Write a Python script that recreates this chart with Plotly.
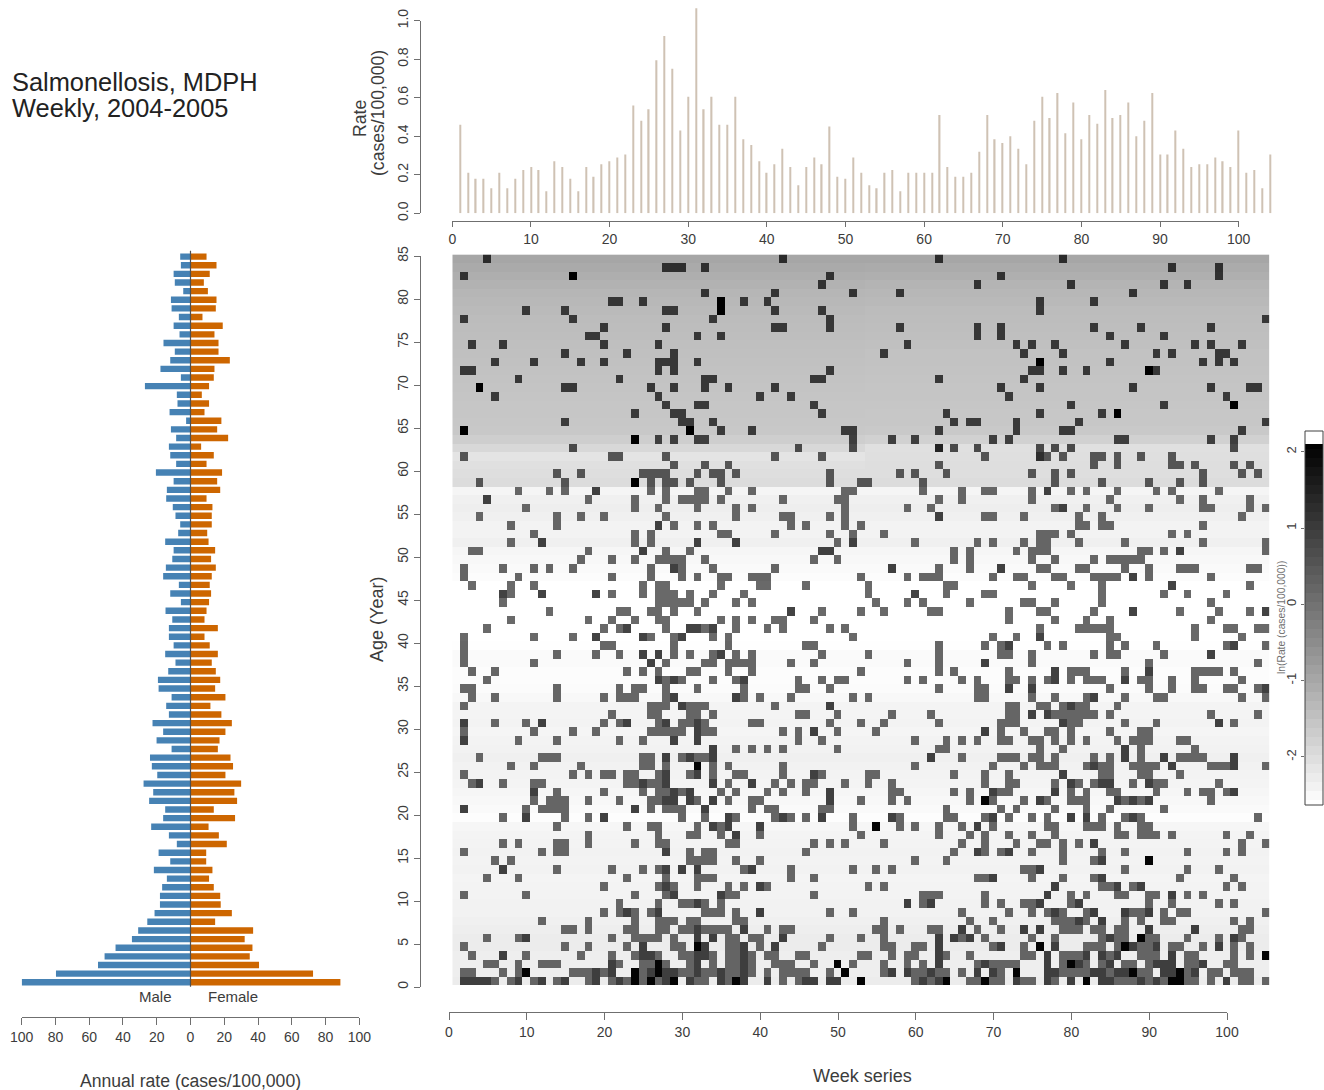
import numpy as np
import plotly.graph_objects as go

W, H = 1324, 1090

# ---------- data ----------
ages = list(range(85, 0, -1))
male_rate = [6.1,5.7,10,9.3,4.3,11.6,11.2,6.9,10,6.5,16,9.3,12,17.8,5.7,27,8.1,7.7,12.4,2.6,11.6,8.5,12.8,12,8.5,
             20.5,10,14,14.4,10.5,8.9,6.1,7.3,15,10,10.8,14.6,16.2,6.9,12,5.7,14.8,10.8,12.8,12.8,10,15,8.9,13.2,
             19.3,18.9,11.2,14.4,12.8,22.5,16.2,20.1,11.2,24,22.9,19.7,27.8,22.1,24.5,15,16.2,23.3,12.8,8.1,18.9,
             12,21.7,14,16.8,18.1,18.1,21.3,25.6,31,34.7,44.4,50.9,54.8,79.7,100]
female_rate = [9.5,15.4,11.4,7.9,10.3,15.4,15,7.1,19.1,14.2,16.6,16.6,23.3,14.2,13.8,11,6.7,11,8.3,18.3,15.8,22.3,
               6.3,13.8,9.5,18.7,15.8,17.6,9.5,13,12.6,12.6,9.9,10.7,14.6,12.2,15,12.6,11.4,12.2,11,9.5,8.3,16.2,
               8.3,11.4,16.2,12.6,15,17.6,14.6,20.7,11.8,18.3,24.5,20.7,17.2,16.2,23.7,25.2,20.7,30,26,27.6,13.8,
               26.4,10.7,16.8,21.5,9.3,9.3,13,11,13.8,17.6,17.9,24.5,14.6,37.1,32.1,36.7,35.1,40.6,72.6,88.8]

weekly_rate = [0.46,0.21,0.18,0.18,0.13,0.21,0.13,0.18,0.225,0.24,0.225,0.115,0.27,0.24,0.18,0.115,0.24,0.19,0.255,
               0.27,0.29,0.305,0.56,0.48,0.54,0.795,0.92,0.75,0.43,0.605,1.065,0.54,0.605,0.46,0.46,0.605,0.385,
               0.355,0.27,0.21,0.255,0.335,0.24,0.145,0.24,0.29,0.255,0.45,0.19,0.18,0.29,0.21,0.145,0.13,0.21,
               0.225,0.115,0.21,0.21,0.21,0.21,0.51,0.24,0.19,0.19,0.21,0.32,0.51,0.385,0.365,0.40,0.335,0.255,
               0.48,0.605,0.495,0.625,0.415,0.575,0.385,0.51,0.465,0.64,0.495,0.51,0.575,0.40,0.48,0.625,0.305,
               0.305,0.43,0.335,0.24,0.255,0.255,0.29,0.27,0.24,0.43,0.21,0.225,0.13,0.305]

# ln(rate) shown in the weeks without a case, per age 85..1
ln_empty_2004 = [-0.98,-1.05,-1.13,-1.20,-1.28,-1.31,-1.35,-1.39,-1.41,-1.42,-1.44,-1.46,-1.48,-1.50,-1.52,-1.54,-1.55,
                 -1.57,-1.57,-1.59,-1.61,-1.72,-1.91,-2.12,-2.06,-2.02,-1.98,-2.44,-2.35,-2.31,-2.35,-2.41,-2.41,-2.35,
                 -2.46,-2.50,-2.54,-2.57,-2.63,-2.63,-2.63,-2.63,-2.63,-2.63,-2.63,-2.61,-2.54,-2.54,-2.57,-2.57,-2.56,
                 -2.50,-2.43,-2.43,-2.41,-2.44,-2.41,-2.39,-2.35,-2.39,-2.41,-2.43,-2.46,-2.50,-2.54,-2.59,-2.46,-2.43,
                 -2.41,-2.39,-2.41,-2.39,-2.43,-2.41,-2.41,-2.39,-2.39,-2.35,-2.31,-2.28,-2.28,-2.31,-2.31,-2.31,-2.28]
ln_empty_2005 = [-0.98,-1.07,-1.15,-1.23,-1.30,-1.34,-1.38,-1.41,-1.43,-1.45,-1.47,-1.49,-1.50,-1.52,-1.54,-1.55,-1.56,
                 -1.58,-1.59,-1.60,-1.62,-1.78,-2.06,-2.04,-2.02,-2.02,-1.98,-2.44,-2.35,-2.31,-2.35,-2.41,-2.41,-2.35,
                 -2.46,-2.50,-2.54,-2.57,-2.63,-2.63,-2.63,-2.63,-2.63,-2.63,-2.63,-2.61,-2.54,-2.54,-2.57,-2.57,-2.56,
                 -2.50,-2.43,-2.43,-2.41,-2.44,-2.41,-2.39,-2.35,-2.39,-2.41,-2.43,-2.46,-2.50,-2.54,-2.59,-2.46,-2.43,
                 -2.41,-2.39,-2.41,-2.39,-2.43,-2.41,-2.41,-2.39,-2.39,-2.35,-2.31,-2.28,-2.28,-2.31,-2.31,-2.31,-2.28]
# ln(rate) of one case in a week, per age 85..1
ln_one_case = [1.30,1.25,1.20,1.17,1.15,1.12,1.08,1.08,1.08,1.08,1.08,1.08,1.08,1.08,1.08,1.08,1.02,1.02,1.02,1.02,1.02,
               0.95,0.75,0.55,0.55,0.55,0.55,0.22,0.22,0.22,0.22,0.22,0.22,0.22,0.22,0.22,0.22,0.22,0.16,0.16,0.16,0.16,
               0.16,0.16,0.16,0.20,0.20,0.20,0.20,0.20,0.20,0.20,0.22,0.22,0.22,0.22,0.22,0.22,0.22,0.22,0.22,0.22,0.22,
               0.22,0.22,0.22,0.22,0.22,0.22,0.22,0.22,0.22,0.22,0.22,0.22,0.25,0.25,0.25,0.25,0.25,0.25,0.25,0.25,0.25,0.25]

weeks_with_cases = {
85:[5,43,63,79],84:[28,29,30,33,93,99],83:[2,16,49,71,99],82:[48,68,80,92,95],81:[33,42,52,58,88],
80:[21,22,25,35,38,41,76,83],79:[10,15,28,29,35,42,48,76],78:[2,16,34,49,105],
77:[20,28,42,43,49,58,68,71,83,89,98],76:[18,19,32,35,68,71,85,92],75:[3,7,20,27,59,73,75,78,87,96,98,102],
74:[15,23,29,56,74,79,91,93,99,100],73:[6,11,17,20,27,28,29,32,76,85,97,99,101],72:[2,3,27,29,49,75,76,79,82,90,91],
71:[9,22,33,34,47,48,63,74],70:[4,15,16,26,29,33,36,42,71,76,88,98,103,104],69:[6,27,40,44,72,100],
68:[28,32,33,47,80,92,101],67:[24,29,30,48,64,76,84,86],66:[15,30,31,34,65,67,68,73,81,105],
65:[2,31,35,39,51,52,63,73,79,80,102],64:[24,27,29,32,33,52,57,60,70,72,86,87,98,101],
63:[16,45,52,63,65,68,76,78,80,101],62:[2,21,22,28,42,48,69,76,77,79,83,84,86,89,93],
61:[29,33,36,63,83,86,93,94,96,101,103],60:[14,17,25,26,27,28,32,34,35,37,49,58,60,64,75,78,80,97,102,104],
59:[4,15,24,26,28,29,31,35,49,53,54,61,78,84,90,94,97],
58:[9,13,15,19,26,28,32,33,36,39,51,52,61,66,69,70,75,77,80,82,86,91,93,99],
57:[5,18,24,28,30,31,32,33,35,43,50,51,63,66,75,85,94,97,103],
56:[10,24,27,32,37,39,51,59,62,78,79,82,86,90,97,98,103,105],
55:[4,14,17,20,28,37,43,44,49,51,63,69,70,74,81,84,102],
54:[8,14,27,29,32,34,44,46,51,53,81,82,84,85,97],
53:[11,24,26,35,36,42,49,52,56,76,77,78,80,93,95],
52:[8,12,24,26,32,37,50,52,60,68,70,74,76,77,81,87,97,105],
51:[3,4,18,25,28,31,48,49,65,67,73,75,76,77,89,90,92,94,105],
50:[17,21,24,27,28,29,30,33,47,50,65,67,75,78,83,85,86,87,88,89],
49:[2,7,11,13,16,26,29,30,34,42,57,63,67,71,76,77,81,82,87,90,94,95,96,103,104],
48:[2,9,21,26,30,32,35,36,39,40,41,53,59,61,62,63,70,73,74,78,79,83,84,85,86,88,90,98],
47:[3,8,11,25,27,28,35,40,41,46,54,64,65,75,80,84,93,103],
46:[7,8,12,19,21,25,27,28,29,31,34,38,54,60,64,69,70,84,92,95,100],
45:[7,27,28,29,30,31,33,37,39,55,59,61,67,74,75,78,84,98],
44:[13,22,23,26,27,29,32,44,48,53,56,62,63,72,76,77,83,88,94,99,103,105],
43:[8,18,21,24,27,28,35,37,39,42,43,47,72,78,82,85,98],
42:[5,20,22,23,28,31,32,33,34,37,41,43,49,51,76,81,82,83,84,85,96,100,101,104,105],
41:[2,11,16,19,25,26,29,30,34,36,52,70,73,76,85,86,96,102],
40:[2,20,21,29,36,46,47,63,69,71,72,77,79,85,87,91,100,101,105],
39:[2,14,19,22,25,27,29,31,34,35,37,39,48,54,63,71,72,75,83,85,86,92,98],
38:[2,11,26,28,33,34,36,37,38,39,44,47,59,63,69,75,90,104],
37:[3,6,23,25,27,31,32,36,39,53,63,65,72,78,80,81,82,87,90,96,97,98,99,101],
36:[5,27,28,29,30,34,37,38,45,48,50,51,59,61,66,68,72,73,75,77,78,80,82,83,84,87,89,90,93,96,102],
35:[2,3,14,22,24,25,28,32,38,45,46,49,63,68,69,72,75,85,90,93,96,97,100,101,104,105],
34:[3,6,14,20,22,23,24,28,29,37,38,40,44,52,54,68,69,75,78,82,83,87,91,92,102,105],
33:[2,26,27,28,30,31,32,33,42,49,72,73,76,77,79,80,81,82,86],
32:[21,26,27,31,32,34,45,46,50,57,62,72,73,75,77,78,79,80,81,82,83,85,98,104],
31:[2,6,10,12,20,22,23,27,28,30,31,32,33,39,40,49,53,56,63,71,72,73,79,80,81,87,91,99,101],
30:[2,11,16,19,26,27,28,29,30,32,33,34,43,45,47,50,55,69,71,74,77,78,80,85,89,90],
29:[2,9,14,22,25,29,32,45,48,60,64,66,68,71,72,75,76,78,80,82,86,88,89,90,94,95],
28:[34,37,39,41,43,50,63,64,76,79,87,89,96],
27:[4,12,13,14,25,26,28,30,31,32,33,34,62,66,71,72,73,75,76,78,83,85,87,89,92,94,95,96,97,101],
26:[8,11,17,25,26,28,32,34,36,43,60,70,74,76,77,78,82,83,84,85,88,89,90,91,93,98,99,100,101,105],
25:[2,16,18,20,21,23,24,27,28,31,32,34,37,38,43,47,48,54,55,65,69,72,79,84,85,89,90,94],
24:[3,4,7,11,12,23,24,25,26,27,28,34,36,39,42,44,46,47,51,54,57,69,72,73,78,80,81,83,84,85,88,90,91,92,99],
23:[11,14,20,25,27,28,29,30,31,35,37,41,43,46,49,57,58,65,67,70,71,72,78,80,82,85,86,91,95,97,98,100,101],
22:[11,13,14,15,18,22,26,27,28,29,31,32,34,36,39,40,49,53,57,59,67,69,70,74,76,77,80,81,82,86,87,88,89,90,98],
21:[2,10,12,13,14,15,24,26,28,29,30,33,39,41,42,48,49,64,71,73,78,82,85,92],
20:[7,10,15,18,20,30,33,36,37,42,43,44,46,48,52,57,58,64,65,69,70,72,75,77,80,82,84,87,88,89,104],
19:[14,23,26,27,32,34,35,36,40,52,55,58,60,63,66,68,70,77,78,82,83,84,86,89,90],
18:[18,27,31,32,35,37,40,53,63,67,69,72,75,78,86,87,89,90,91,93,100,103],
17:[7,9,14,15,18,24,27,28,36,37,47,49,51,56,66,69,73,76,77,79,81,83,102,105],
16:[2,12,14,15,28,31,33,34,46,65,68,69,71,72,75,79,84,87,95,100,102],
15:[6,8,31,32,33,34,37,40,60,64,79,83,84,90],
14:[7,14,21,25,27,28,30,32,38,39,44,52,55,57,74,75,76,87,95,99],
13:[5,9,23,28,32,33,34,44,47,68,69,70,75,79,83,84,94,101],
12:[20,27,28,29,32,36,38,40,41,54,56,78,84,85,86,88,89,100,102],
11:[2,10,24,28,29,35,36,37,47,61,62,63,69,77,80,82,86,87,90,91,93,95,97],
10:[22,27,30,31,32,33,35,59,61,62,69,71,74,75,76,80,81,90,93,99,101],
9:[20,22,23,24,26,27,33,34,35,37,40,49,52,66,72,75,77,78,79,82,83,87,88,89,90,92,94,95,105],
8:[12,18,24,27,28,29,31,32,37,38,56,67,70,78,79,80,81,82,84,87,89,92,93,101,103],
7:[15,16,18,23,24,27,28,30,31,32,33,34,35,36,38,41,43,44,55,56,58,62,63,66,68,71,74,76,79,80,81,83,84,86,87,90,96,102,103],
6:[5,9,10,21,24,25,26,27,29,32,34,36,37,39,40,43,49,53,56,63,65,66,67,69,75,78,84,85,86,87,89,90,91,95,99,101,102],
5:[2,15,18,23,25,29,30,32,33,36,37,38,40,42,48,56,57,60,61,63,70,71,74,76,78,82,83,84,86,87,88,89,90,91,93,94,97,99,101,103],
4:[3,7,10,17,21,24,25,26,27,30,31,32,33,34,36,37,38,39,41,42,45,46,53,54,57,59,60,63,64,67,74,75,77,79,80,81,82,84,85,86,89,90,91,93,95,96,101,103,105],
3:[5,6,9,12,13,14,21,22,25,26,27,28,31,32,34,36,37,38,39,42,43,44,47,50,52,56,59,61,63,68,69,70,71,72,73,77,79,80,81,82,84,85,87,88,90,91,92,93,95,96,97,100,101],
2:[2,3,7,9,10,16,17,18,19,20,21,24,25,26,27,28,29,30,31,32,33,34,35,36,37,38,39,41,43,44,45,46,49,51,56,57,59,60,61,62,63,64,66,68,70,71,73,77,78,79,80,81,82,83,84,85,86,87,88,89,90,92,93,94,95,96,98,99,101,102,103],
1:[2,3,4,5,6,8,9,11,12,14,15,18,19,21,22,23,24,25,26,27,28,29,31,32,33,35,36,37,38,41,43,45,46,47,49,50,53,60,61,62,63,64,67,68,69,70,71,73,74,75,77,78,80,82,84,85,86,87,88,89,90,91,92,93,94,95,96,98,100,102,103,105],
}
weeks_two_cases = {
62:[76],63:[63],58:[19,77],57:[5],56:[79],55:[63],54:[27],52:[12,32,37,52],51:[25,48,49,94],49:[29,57,71],48:[88],47:[93],
46:[7,12,19,60],44:[44,88,105],43:[],42:[23,31,32,34],41:[19,25,30,76],40:[72,101],39:[25,27,35,98],38:[26,69],37:[78,90],
36:[27,29,38,78,87],35:[72,75,105],34:[29,37,83],33:[30,49,80],32:[75,77],31:[2,12,23,28,32,79,99],30:[32,47,69],29:[2,29,32],
28:[34,87],27:[28,31,34,62,87,92,101],26:[83,93,101],25:[28,32,47,79],24:[4,25,28,34,39,80,84,85,90],
23:[11,29,31,49,70,78,101],22:[28,29,31,34,49,76,86,88,90],21:[2,24,33],20:[10,20,36,43,48,57,70,80,82,88],
19:[34,36,40,68],18:[37],17:[83],16:[28,68,72],15:[84],14:[7,28,30,32,39,76],13:[70,84],12:[28,40,78,86,89],
11:[29,35,77,93],10:[32,59,62,76,81],9:[23,27,40,78,83,87,90],8:[81,84],7:[32,38,66,74,76,90,96],
6:[10,32,34,43,63,65,67,85,101],5:[25,33,38,42,63,71,78,88,91,99],4:[7,25,26,32,33,38,63,77,82,84,86,93],
3:[21,32,38,63,69,77,81,85,91,92,93,97],2:[19,21,26,28,29,32,35,38,57,59,62,68,70,77,78,83,84,86,87,92,93,96],
1:[2,3,4,5,9,12,15,19,22,28,31,35,38,41,46,47,49,50,61,63,73,77,80,84,85,89,91,100],
}
weeks_many_cases = {
83:[16],80:[35],79:[35],73:[76],72:[90],70:[4],68:[101],67:[86],65:[2,31],64:[24],59:[24],26:[32],22:[69],19:[55],15:[90],
6:[89],5:[32,76,87],4:[105],3:[27,50,80],2:[10,24,27,51,73,88,94],1:[24,26,29,37,53,64,69,82,93,94],
}
age_ticks = list(range(0, 90, 5))
week_ticks = list(range(0, 110, 10))
rate_ticks = [0, 0.2, 0.4, 0.6, 0.8, 1.0]
rate_labels = ["0.0", "0.2", "0.4", "0.6", "0.8", "1.0"]
pyramid_ticks = [-100, -80, -60, -40, -20, 0, 20, 40, 60, 80, 100]
pyramid_labels = ["100", "80", "60", "40", "20", "0", "20", "40", "60", "80", "100"]
ln_ticks = [-2, -1, 0, 1, 2]
ln_min, ln_max = -2.63, 2.1
ramp_levels = np.arange(ln_min, ln_max + 0.118, 0.118).tolist()

# ---------- derived ----------
n_weeks = 105
z = np.zeros((len(ages), n_weeks))
for r, age in enumerate(ages):
    z[r, :53] = ln_empty_2004[r]
    z[r, 53:] = ln_empty_2005[r]
    for wk in weeks_with_cases.get(age, []):
        z[r, wk - 1] = ln_one_case[r]
    for wk in weeks_two_cases.get(age, []):
        z[r, wk - 1] = ln_one_case[r] + np.log(2)
    for wk in weeks_many_cases.get(age, []):
        z[r, wk - 1] = ln_one_case[r] + np.log(6)

# ---------- style / geometry ----------
AX = "#6f6f6f"
TXT = "#3c3c3c"
FONT = "Liberation Sans, Arial, sans-serif"
GRAY = [[0, "#ffffff"], [1, "#000000"]]

def dx(a, b):
    return [a / W, b / W]

def dy(top, bot):
    return [1 - bot / H, 1 - top / H]

def hidden(**kw):
    return dict(visible=False, showgrid=False, zeroline=False, fixedrange=True, **kw)

def tick_x(dom, rng, ypx, vals, text=None, ticklen=7):
    return dict(domain=dx(*dom), range=rng, anchor="free", position=1 - ypx / H, side="bottom",
                showline=True, linecolor=AX, linewidth=1.3, ticks="outside", ticklen=ticklen, tickwidth=1.2,
                tickcolor=AX, tickvals=vals, ticktext=text or [str(v) for v in vals], showgrid=False, zeroline=False,
                tickfont=dict(size=14, color=TXT, family=FONT), tickangle=0, fixedrange=True)

def tick_y(dom, rng, xpx, vals, text=None):
    return dict(domain=dy(*dom), range=rng, anchor="free", position=xpx / W, side="left",
                showline=True, linecolor=AX, linewidth=1.3, ticks="outside", ticklen=6, tickwidth=1.2,
                tickcolor=AX, tickvals=vals, ticktext=text or [str(v) for v in vals], showgrid=False, zeroline=False,
                tickfont=dict(size=14, color=TXT, family=FONT), tickangle=-90, fixedrange=True)

fig = go.Figure()

# pyramid
fig.add_trace(go.Bar(x=[-v for v in male_rate], y=ages, orientation="h", width=0.74,
                     marker=dict(color="#4682b4", line_width=0), xaxis="x", yaxis="y", hoverinfo="skip"))
fig.add_trace(go.Bar(x=female_rate, y=ages, orientation="h", width=0.74,
                     marker=dict(color="#cd6600", line_width=0), xaxis="x", yaxis="y", hoverinfo="skip"))
# weekly spikes
fig.add_trace(go.Bar(x=list(range(1, 105)), y=weekly_rate, width=0.16,
                     marker=dict(color="#cfc2b4", line_width=0), xaxis="x2", yaxis="y2", hoverinfo="skip"))
# helper traces so that the tick-only axes are drawn
fig.add_trace(go.Scatter(x=[0, 100], y=[0, 1], mode="markers", marker=dict(opacity=0), xaxis="x3", yaxis="y3", hoverinfo="skip"))
# heat map
fig.add_trace(go.Heatmap(z=z.tolist(), x=list(range(1, n_weeks + 1)), y=[a - 0.5 for a in ages],
                         colorscale=GRAY, zmin=ln_min, zmax=ln_max, showscale=False, xaxis="x4", yaxis="y4", hoverinfo="skip"))
fig.add_trace(go.Scatter(x=[0, 100], y=[0, 85], mode="markers", marker=dict(opacity=0), xaxis="x5", yaxis="y5", hoverinfo="skip"))
# colour key
fig.add_trace(go.Heatmap(z=[[v] for v in ramp_levels], x=[0], y=ramp_levels, colorscale=GRAY, zmin=ln_min, zmax=ln_max,
                         showscale=False, xaxis="x6", yaxis="y6", hoverinfo="skip"))

y_key_top = 451.7 - (ln_max - 2) * 76.3
y_key_bot = 451.7 + (2 - ln_min) * 76.3

layout = dict(
    width=W, height=H, margin=dict(l=0, r=0, t=0, b=0, pad=0, autoexpand=False), showlegend=False, barmode="overlay",
    paper_bgcolor="white", plot_bgcolor="rgba(0,0,0,0)", font=dict(family=FONT, color=TXT),
    xaxis=dict(tick_x((21.7, 359.3), [-100, 100], 1017, pyramid_ticks, pyramid_labels)),
    yaxis=hidden(domain=dy(250.7, 986.7), range=[0.49, 85.68], anchor="x"),
    xaxis2=hidden(domain=dx(452.3, 1274), range=[0, 104.5], anchor="y2"),
    yaxis2=hidden(domain=dy(1.4, 213.3), range=[0, 1.1], anchor="x2"),
    xaxis3=tick_x((452.3, 1238.7), [0, 100], 221, week_ticks, ticklen=5),
    yaxis3=tick_y((20.7, 213.3), [0, 1], 420, rate_ticks, rate_labels),
    xaxis4=hidden(domain=dx(452.3, 1269.5), range=[0.5, 105.5], anchor="y4"),
    yaxis4=hidden(domain=dy(254.4, 985), range=[0, 85], anchor="x4"),
    xaxis5=tick_x((449, 1227), [0, 100], 1012, week_ticks),
    yaxis5=tick_y((256, 987), [0, 85], 420, age_ticks),
    xaxis6=hidden(domain=dx(1305, 1323), range=[-0.5, 0.5], anchor="y6"),
    yaxis6=dict(domain=dy(y_key_top, y_key_bot), range=[ln_min, ln_max], anchor="x6", side="left", showline=False,
                ticks="outside", ticklen=3, tickwidth=1, tickcolor=AX, tickvals=ln_ticks, ticktext=[str(v) for v in ln_ticks],
                tickangle=-90, showgrid=False, zeroline=False, tickfont=dict(size=13, color=TXT, family=FONT), fixedrange=True),
)
fig.update_layout(**layout)

# centre line of the pyramid and frame of the colour key
fig.add_shape(type="line", xref="x", yref="paper", x0=0, x1=0, y0=1 - 986.7 / H, y1=1 - 250.7 / H,
              line=dict(color="#505050", width=1.2))
fig.add_shape(type="rect", xref="paper", yref="paper", x0=1305 / W, x1=1323 / W, y0=1 - 805 / H, y1=1 - 431 / H,
              line=dict(color="#404040", width=1))

def label(text, xpx, ypx, size=16, angle=0, color=TXT, xanchor="center"):
    fig.add_annotation(text=text, x=xpx / W, y=1 - ypx / H, xref="paper", yref="paper", showarrow=False, textangle=angle,
                       font=dict(size=size, color=color, family=FONT), xanchor=xanchor, yanchor="middle", align="center")

label("Salmonellosis, MDPH", 10, 82, size=25.4, color="#222222", xanchor="left")
label("Weekly, 2004-2005", 10, 108, size=25.4, color="#222222", xanchor="left")
label("Male", 155.5, 996, size=15)
label("Female", 233.5, 996, size=15)
label("Annual rate (cases/100,000)", 190, 1081, size=17.6)
label("Week series", 862, 1076, size=18)
label("Age (Year)", 377, 620, size=18, angle=-90)
label("Rate", 360, 119, size=17.6, angle=-90)
label("(cases/100,000)", 378, 113, size=17.6, angle=-90)
label("ln(Rate (cases/100,000))", 1281, 618, size=10.3, angle=-90, color="#707070")

fig.write_html("out.html", include_plotlyjs=True, config=dict(displayModeBar=False),
               post_script="document.body.style.margin='0';document.body.style.overflow='hidden';")
